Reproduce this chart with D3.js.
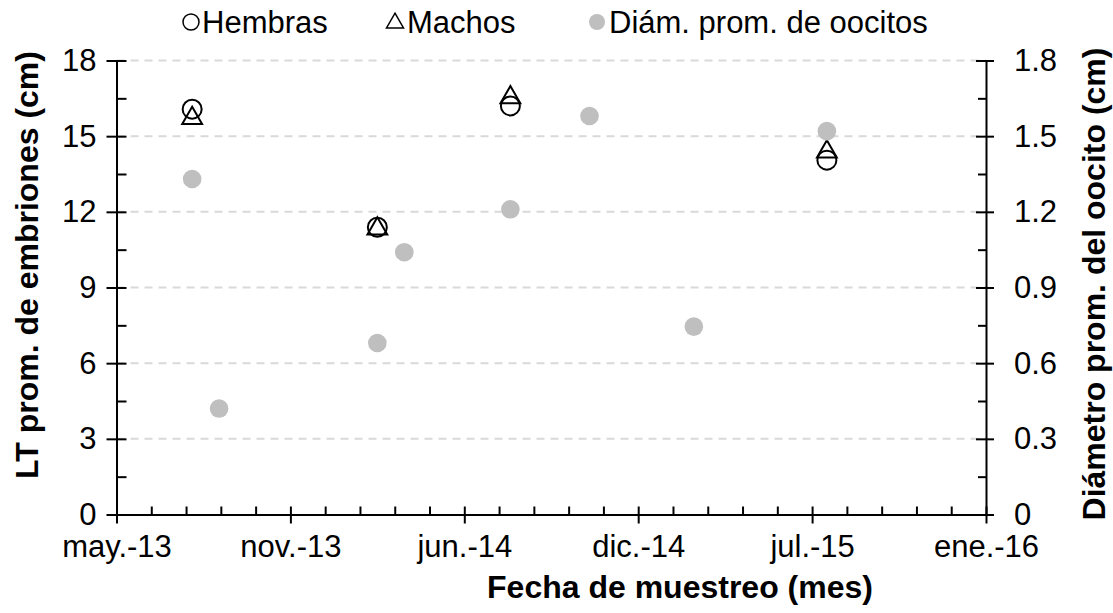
<!DOCTYPE html>
<html><head><meta charset="utf-8">
<script src="https://cdn.jsdelivr.net/npm/d3@7/dist/d3.min.js"></script>
<style>
body{margin:0;background:#fff;}
text{font-family:"Liberation Sans",Arial,sans-serif;fill:#000;}
</style></head>
<body><svg id="c" width="1113" height="613"></svg>
<script>
// ---- data ----
const sampleDates = ["2013-07-27","2014-02-25","2014-07-28","2015-07-27"];
const hembras = [16.07, 11.39, 16.2, 14.05];
const machos  = [15.79, 11.41, 16.61, 14.46];
const oocyteDates = ["2013-07-27","2013-08-27","2014-02-25","2014-03-28","2014-07-28","2014-10-27","2015-02-24","2015-07-27"];
const oocyteDiam  = [1.33, 0.42, 0.68, 1.04, 1.21, 1.58, 0.745, 1.52];
const xTickLabels = ["may.-13","nov.-13","jun.-14","dic.-14","jul.-15","ene.-16"];
const yLeftTicks  = [0,3,6,9,12,15,18];
const yRightTicks = [0,0.3,0.6,0.9,1.2,1.5,1.8];
const legendLabels = ["Hembras","Machos","Diám. prom. de oocitos"];

const parse = d3.utcParse("%Y-%m-%d");
const start = parse("2013-05-01");
const end = d3.utcDay.offset(start, 1000);

const svg = d3.select("#c");
const L = 116.5, R = 986, T = 60.5, B = 514.5;
const x = d3.scaleUtc().domain([start, end]).range([L, R]);
const yL = d3.scaleLinear().domain([0,18]).range([B, T]);
const yR = d3.scaleLinear().domain([0,1.8]).range([B, T]);

const FS = 31;

// gridlines
svg.append("g").selectAll("line").data(yLeftTicks.filter(d=>d>0)).join("line")
  .attr("x1", L).attr("x2", R).attr("y1", d=>yL(d)).attr("y2", d=>yL(d))
  .attr("stroke","#d9d9d9").attr("stroke-width",2).attr("stroke-dasharray","8,6");

const majorX = d3.range(0,6).map(i=>d3.utcDay.offset(start, i*200));
const minorX = d3.range(0,26).filter(i=>i%5!==0).map(i=>d3.utcDay.offset(start, i*40));

function styleAxis(g){
  g.selectAll("path.domain").attr("stroke","#000").attr("stroke-width",2);
  g.selectAll(".tick line").attr("stroke","#000").attr("stroke-width",2);
  g.selectAll("text").attr("font-size",FS).attr("font-family","Liberation Sans, Arial, sans-serif");
}

// x minor
svg.append("g").attr("transform",`translate(0,${B})`)
  .call(d3.axisBottom(x).tickValues(minorX).tickSize(-8).tickFormat("").tickSizeOuter(0))
  .call(styleAxis).call(g=>g.select(".domain").remove());
// x major
const gx = svg.append("g").attr("transform",`translate(0,${B})`)
  .call(d3.axisBottom(x).tickValues(majorX).tickFormat((d,i)=>xTickLabels[i]).tickSize(9).tickSizeOuter(0).tickPadding(11))
  .call(styleAxis);
gx.selectAll(".tick line").attr("y1",-8);

// left minor
const minorY = d3.range(0,13).filter(i=>i%2).map(i=>i*1.5);
svg.append("g").attr("transform",`translate(${L},0)`)
  .call(d3.axisLeft(yL).tickValues(minorY).tickSize(-10).tickFormat(""))
  .call(styleAxis).call(g=>g.select(".domain").remove());
const gl = svg.append("g").attr("transform",`translate(${L},0)`)
  .call(d3.axisLeft(yL).tickValues(yLeftTicks).tickSize(10).tickSizeOuter(0).tickPadding(10).tickFormat(d3.format("d")))
  .call(styleAxis);
gl.selectAll(".tick line").attr("x1",10);

// right minor
const minorYR = d3.range(0,13).filter(i=>i%2).map(i=>i*0.15);
svg.append("g").attr("transform",`translate(${R},0)`)
  .call(d3.axisRight(yR).tickValues(minorYR).tickSize(-8).tickFormat(""))
  .call(styleAxis).call(g=>g.select(".domain").remove());
const gr = svg.append("g").attr("transform",`translate(${R},0)`)
  .call(d3.axisRight(yR).tickValues(yRightTicks).tickSize(8).tickSizeOuter(0).tickPadding(20).tickFormat(d=>d===0?"0":d3.format(".1f")(d)))
  .call(styleAxis);
gr.selectAll(".tick line").attr("x1",-10);

// titles
svg.append("text").attr("x",680).attr("y",598).attr("text-anchor","middle")
  .attr("font-size",32).attr("font-weight","bold").text("Fecha de muestreo (mes)");
svg.append("text").attr("transform","translate(38,265) rotate(-90)").attr("text-anchor","middle")
  .attr("font-size",32).attr("font-weight","bold").text("LT prom. de embriones (cm)");
svg.append("text").attr("transform","translate(1105,284) rotate(-90)").attr("text-anchor","middle")
  .attr("font-size",32).attr("font-weight","bold").text("Diámetro prom. del oocito (cm)");

// markers
const tri = d3.symbol().type(d3.symbolTriangle).size(170);
const hData = sampleDates.map((d,i)=>({date:parse(d), v:hembras[i]}));
const mData = sampleDates.map((d,i)=>({date:parse(d), v:machos[i]}));
const oData = oocyteDates.map((d,i)=>({date:parse(d), v:oocyteDiam[i]}));

svg.append("g").selectAll("circle").data(hData).join("circle")
  .attr("cx",d=>x(d.date)).attr("cy",d=>yL(d.v)).attr("r",9.5)
  .attr("fill","none").attr("stroke","#000").attr("stroke-width",2);
svg.append("g").selectAll("path").data(mData).join("path")
  .attr("d",tri).attr("transform",d=>`translate(${x(d.date)},${yL(d.v)+2})`)
  .attr("fill","none").attr("stroke","#000").attr("stroke-width",2);
svg.append("g").selectAll("circle").data(oData).join("circle")
  .attr("cx",d=>x(d.date)).attr("cy",d=>yR(d.v)).attr("r",9.3)
  .attr("fill","#bfbfbf");

// legend
const lg = svg.append("g");
lg.append("circle").attr("cx",191).attr("cy",22).attr("r",8).attr("fill","none").attr("stroke","#000").attr("stroke-width",1.5);
lg.append("path").attr("d",d3.symbol().type(d3.symbolTriangle).size(125)).attr("transform","translate(395,23)")
  .attr("fill","none").attr("stroke","#000").attr("stroke-width",1.5);
lg.append("circle").attr("cx",597).attr("cy",22).attr("r",8).attr("fill","#bfbfbf");
const lx = [202, 407, 609];
lg.selectAll("text").data(legendLabels).join("text")
  .attr("x",(d,i)=>lx[i]).attr("y",33).attr("font-size",FS).text(d=>d);
</script></body></html>
